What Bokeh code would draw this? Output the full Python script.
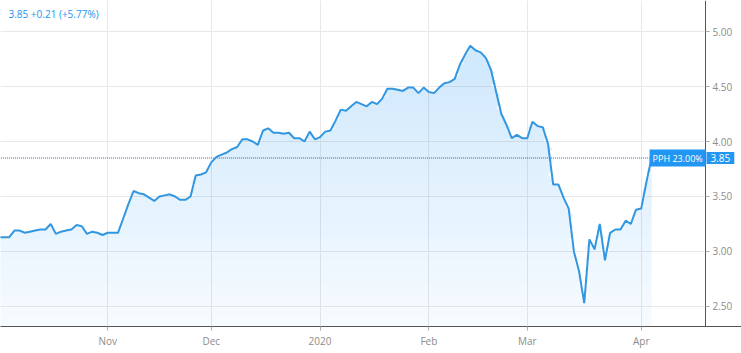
import numpy as np
from bokeh.plotting import figure
from bokeh.models import Range1d, FixedTicker, NumeralTickFormatter, Label, BoxAnnotation
from bokeh.embed import file_html
from bokeh.resources import INLINE

# trading days shown (Oct 3 2019 .. Apr 3 2020)
oct_days = [3, 4, 7, 8, 9, 10, 11, 14, 15, 16, 17, 18, 21, 22, 23, 24, 25, 28, 29, 30, 31]
nov_days = [1, 4, 5, 6, 7, 8, 11, 12, 13, 14, 15, 18, 19, 20, 21, 22, 25, 26, 27, 29]
dec_days = [2, 3, 4, 5, 6, 9, 10, 11, 12, 13, 16, 17, 18, 19, 20, 23, 24, 26, 27, 30, 31]
jan_days = [2, 3, 6, 7, 8, 9, 10, 13, 14, 15, 16, 17, 21, 22, 23, 24, 27, 28, 29, 30, 31]
feb_days = [3, 4, 5, 6, 7, 10, 11, 12, 13, 14, 18, 19, 20, 21, 24, 25, 26, 27, 28]
mar_days = [2, 3, 4, 5, 6, 9, 10, 11, 12, 13, 16, 17, 18, 19, 20, 23, 24, 25, 26, 27, 30, 31]
apr_days = [1, 2, 3]

month_labels = ["Nov", "Dec", "2020", "Feb", "Mar", "Apr"]

prices = [
    3.13, 3.13, 3.13, 3.19, 3.19, 3.17, 3.18, 3.19, 3.20, 3.20,
    3.25, 3.16, 3.18, 3.19, 3.20, 3.24, 3.23, 3.16, 3.18, 3.17,
    3.15, 3.17, 3.17, 3.17, 3.30, 3.43, 3.55, 3.53, 3.52, 3.49,
    3.46, 3.50, 3.51, 3.52, 3.50, 3.47, 3.47, 3.50, 3.69, 3.70,
    3.72, 3.81, 3.86, 3.88, 3.90, 3.93, 3.95, 4.02, 4.02, 4.00,
    3.97, 4.10, 4.12, 4.08, 4.08, 4.07, 4.08, 4.03, 4.03, 4.00,
    4.09, 4.02, 4.04, 4.09, 4.10, 4.19, 4.29, 4.28, 4.32, 4.36,
    4.34, 4.32, 4.36, 4.34, 4.39, 4.48, 4.48, 4.47, 4.46, 4.49,
    4.49, 4.44, 4.49, 4.45, 4.44, 4.49, 4.53, 4.54, 4.57, 4.70,
    4.79, 4.87, 4.83, 4.81, 4.76, 4.65, 4.45, 4.25, 4.15, 4.03,
    4.06, 4.03, 4.03, 4.18, 4.14, 4.13, 3.98, 3.61, 3.61, 3.49,
    3.39, 3.00, 2.82, 2.53, 3.11, 3.02, 3.25, 2.92, 3.17, 3.20,
    3.20, 3.28, 3.25, 3.38, 3.39, 3.63, 3.85,
]

y_ticks = [2.5, 3.0, 3.5, 4.0, 4.5, 5.0]
last_price = 3.85
header_text = "3.85 +0.21 (+5.77%)"
badge_text = "PPH 23.00%"

months = [("2019-10", oct_days), ("2019-11", nov_days), ("2019-12", dec_days),
          ("2020-01", jan_days), ("2020-02", feb_days), ("2020-03", mar_days),
          ("2020-04", apr_days)]
dates = [f"{m}-{d:02d}" for m, days in months for d in days]
idx = np.arange(len(prices))
vals = np.array(prices)

# first trading day of each month from Nov onward -> tick positions
tick_idx = []
seen = set()
for i, d in enumerate(dates):
    key = d[:7]
    if key not in seen:
        seen.add(key)
        if key != "2019-10":
            tick_idx.append(i)

BLUE = "#2196f3"
LINE = "#3297e0"

X0, X1 = 0.31, 143.36        # visible index span across the whole canvas width
AXIS_AT = 136.41             # where the price axis sits (index units)
Y0, Y1 = 2.318, 5.282

p = figure(width=741, height=353,
           min_border_left=0, min_border_right=0, min_border_top=0, min_border_bottom=27,
           x_range=Range1d(X0, X1), y_range=Range1d(Y0, Y1),
           y_axis_location="right", output_backend="svg", toolbar_location=None)

p.background_fill_color = "white"
p.border_fill_color = "white"
p.outline_line_color = None

# gradient-like area fill: non-overlapping horizontal bands, alpha rising with height
levels = Y0 + 0.1 * np.arange(0, 31)
for lo, hi in zip(levels[:-1], levels[1:]):
    mid = 0.5 * (lo + hi)
    a = 0.054 + (0.21 - 0.054) * (mid - 2.55) / (4.75 - 2.55)
    a = float(min(max(a, 0.03), 0.24))
    top = np.minimum(vals, hi)
    bottom = np.full(len(idx), lo)
    top = np.maximum(top, bottom)
    p.varea(x=idx, y1=bottom, y2=top, fill_color=BLUE, fill_alpha=a)

# cover grid lines to the right of the price axis
p.add_layout(BoxAnnotation(left=AXIS_AT, fill_color="white", fill_alpha=1.0,
                           line_color=None, level="underlay"))

# dotted last-price line
p.line(x=[idx[0], idx[-1]], y=[last_price, last_price], line_color="#2a6aa8",
       line_dash="1 1", line_width=1)

p.line(idx, vals, line_color=LINE, line_width=2)

# axes
p.yaxis.fixed_location = AXIS_AT
p.yaxis.ticker = FixedTicker(ticks=y_ticks)
p.yaxis.formatter = NumeralTickFormatter(format="0.00")
p.xaxis.ticker = FixedTicker(ticks=tick_idx)
p.xaxis.major_label_overrides = {int(t): lab for t, lab in zip(tick_idx, month_labels)}
for ax in (p.xaxis[0], p.yaxis[0]):
    ax.axis_line_color = "#555555"
    ax.major_tick_line_color = "#aaaaaa"
    ax.major_tick_in = 0
    ax.major_tick_out = 4
    ax.minor_tick_line_color = None
    ax.major_label_text_color = "#8c8c8c"
    ax.major_label_text_font = "Open Sans"
    ax.major_label_text_font_size = "10px"
    ax.major_label_standoff = 3

p.xgrid.grid_line_color = "#e8e8e8"
p.ygrid.grid_line_color = "#e8e8e8"

p.add_layout(Label(x=1.85, y=5.155, text=header_text, text_color=BLUE,
                   text_font="Open Sans", text_font_size="10px", text_baseline="middle"))
p.add_layout(Label(x=idx[-1], y=last_price, x_offset=-2, text=badge_text, text_color="white",
                   text_font="Open Sans", text_font_size="9px", text_baseline="middle",
                   background_fill_color=BLUE,
                   padding=dict(left=3, right=3, top=2, bottom=2)))
p.add_layout(Label(x=AXIS_AT, y=last_price, x_offset=1, text=f"{last_price:.2f}",
                   text_color="white", text_font="Open Sans", text_font_size="10px",
                   text_baseline="middle", background_fill_color=BLUE,
                   padding=dict(left=4, right=4, top=2, bottom=2)))

open("out.html", "w").write(file_html(p, INLINE))
